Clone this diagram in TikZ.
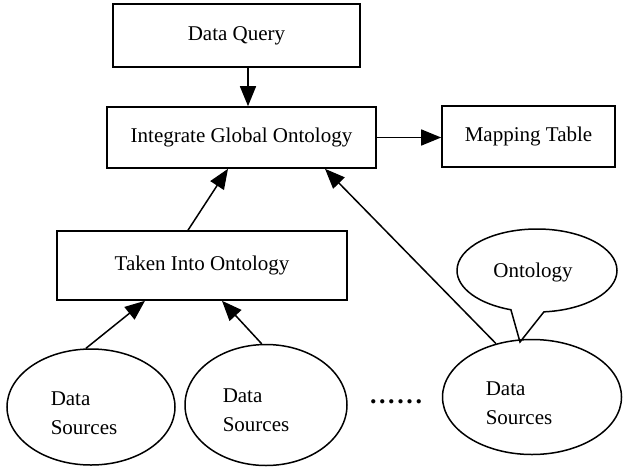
\documentclass[tikz,border=0pt]{standalone}
\usepackage{fontspec}
\setmainfont{Liberation Serif}
\usetikzlibrary{arrows.meta,shapes.geometric,shapes.callouts,calc}
\begin{document}
\begin{tikzpicture}[x=1pt,y=-1pt,
  every node/.style={font=\fontsize{21}{29}\selectfont},
  boxnode/.style={draw,line width=1.6pt,inner sep=0pt,minimum width=#1},
  dsnode/.style={draw,ellipse,line width=1.5pt,inner sep=0pt},
  dstext/.style={align=left,inner sep=0pt},
  arr/.style={line width=1.5pt,-{Triangle[length=20pt,width=16pt]}}
]
\useasboundingbox[fill=white] (0,0) rectangle (631,466);
% boxes
\node[boxnode=247pt,minimum height=63pt] (dq) at (236.5,35.5) {Data Query};
\node[boxnode=269pt,minimum height=61pt] (igo) at (241.5,137.5) {Integrate Global Ontology};
\node[boxnode=173pt,minimum height=61pt] (mt) at (528.5,136.5) {Mapping Table};
\node[boxnode=290pt,minimum height=69pt] (tio) at (202,265.5) {Taken Into Ontology};
% data sources
\node[dsnode,minimum width=168pt,minimum height=116pt] (ds1) at (91,407) {};
\node[dsnode,minimum width=162pt,minimum height=121pt] (ds2) at (266,405) {};
\node[dsnode,minimum width=179pt,minimum height=115pt] (ds3) at (532,397) {};
\node[dstext] (ds1t) at (84,413) {Data\\Sources};
\node[dstext] (ds2t) at (256,410) {Data\\Sources};
\node[dstext] (ds3t) at (519,403) {Data\\Sources};
% ontology callout
\node[draw,ellipse callout,line width=1.5pt,inner sep=0pt,minimum width=160pt,minimum height=83pt,
  callout absolute pointer={(520,342)},callout pointer arc=24] (onto) at (537,270.5) {};
\node (ontot) at (533,272) {Ontology};
% dots
\node[inner sep=0pt,font=\fontsize{26}{30}\selectfont] (dots) at (396,402) {\textbf{.\hspace{2.6pt}.\hspace{2.6pt}.\hspace{2.6pt}.\hspace{2.6pt}.\hspace{2.6pt}.}};
% connectors
\draw[arr] ([xshift=11.5pt]dq.south) -- ([xshift=6.5pt]igo.north);
\draw[arr] (igo.east) -- (igo.east -| mt.west);
\draw[arr] ([xshift=-14pt]tio.north) -- ([xshift=-13.5pt]igo.south);
\draw[arr] (ds3.124) -- ([xshift=83.5pt]igo.south);
\draw[arr] (ds1.95) -- ([xshift=-57pt]tio.south);
\draw[arr] (ds2.94) -- ([xshift=20pt]tio.south);
\end{tikzpicture}
\end{document}
